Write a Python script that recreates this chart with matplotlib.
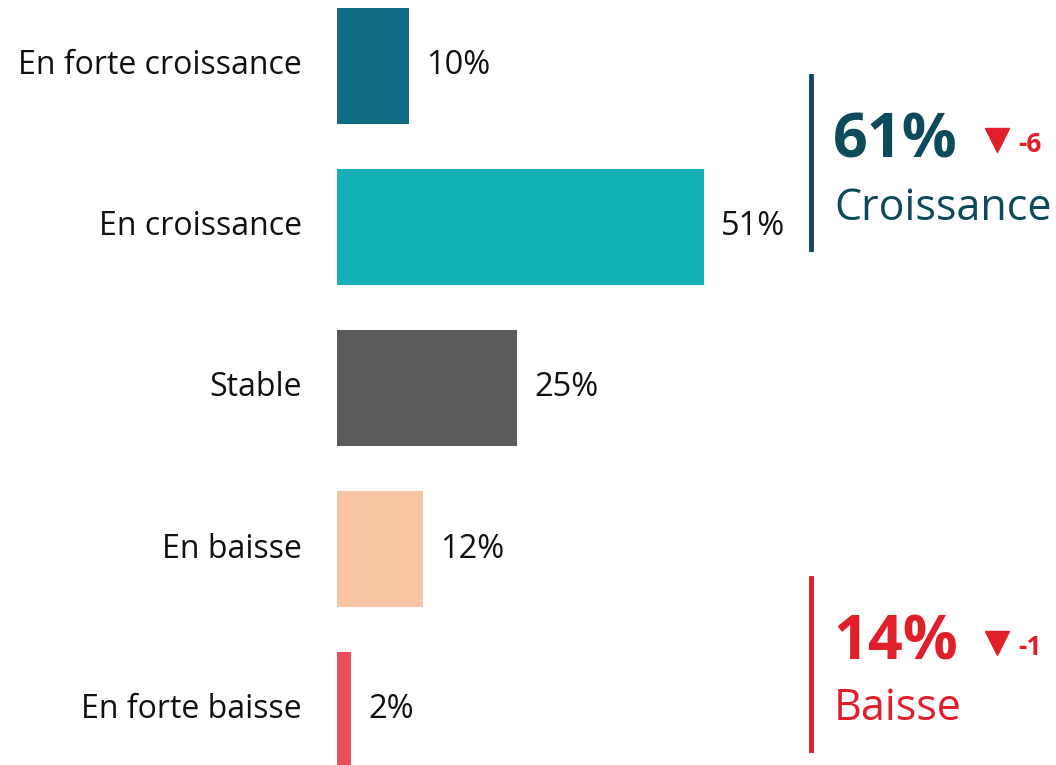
import matplotlib
matplotlib.use("Agg")
import matplotlib.pyplot as plt
from matplotlib.lines import Line2D

categories = ["En forte croissance", "En croissance", "Stable", "En baisse", "En forte baisse"]
values = [10, 51, 25, 12, 2]
colors = ["#0F6C82", "#14AFB7", "#5B5B5B", "#F7C5A6", "#E8505B"]

summary_values = ["61%", "14%"]
summary_changes = ["-6", "-1"]
summary_labels = ["Croissance", "Baisse"]
summary_colors = ["#0D4A5B", "#E01F2A"]
change_color = "#E01F2A"

W, H = 1056, 765
plt.rcParams['font.family'] = ['Open Sans', 'DejaVu Sans']
fig = plt.figure(figsize=(W / 100, H / 100), dpi=100)

px_per_pct = 7.2
x0 = 337
ax = fig.add_axes([x0 / W, 0, 1 - x0 / W, 1])
ax.set_xlim(0, (W - x0) / px_per_pct)
step = 161
c0 = 66
ax.set_ylim((H - c0) / step, -c0 / step)
ypos = list(range(len(categories)))
ax.barh(ypos, values, height=0.72, color=colors)
ax.axis("off")

for y, v, lab in zip(ypos, values, categories):
    ax.text(v + 17 / px_per_pct, y, f"{v}%", va="center", ha="left", fontsize=23.5, color="#111111")
    ax.text(-35 / px_per_pct, y, lab, va="center", ha="right", fontsize=23, color="#111111")

def fx(x):
    return x / W

def fy(y):
    return 1 - y / H

blocks = [(76, 249, 157, 220), (578, 750, 660, 720)]
for (ytop, ybot, ybase1, ybase2), val, ch, lab, col in zip(blocks, summary_values, summary_changes, summary_labels, summary_colors):
    fig.add_artist(Line2D([fx(811), fx(811)], [fy(ytop), fy(ybot)], color=col, lw=3.5, transform=fig.transFigure))
    fig.text(fx(833), fy(ybase1), val, fontsize=44, fontweight="bold", color=col, ha="left", va="baseline")
    fig.add_artist(Line2D([fx(997)], [fy(ybase1 - 17)], marker="v", markersize=17, color=change_color,
                          linestyle="none", transform=fig.transFigure))
    fig.text(fx(1018), fy(ybase1 - 5), ch, fontsize=19, fontweight="bold", color=change_color, ha="left", va="baseline")
    fig.text(fx(834), fy(ybase2), lab, fontsize=31, color=col, ha="left", va="baseline")

fig.savefig("out.png", dpi=100)
